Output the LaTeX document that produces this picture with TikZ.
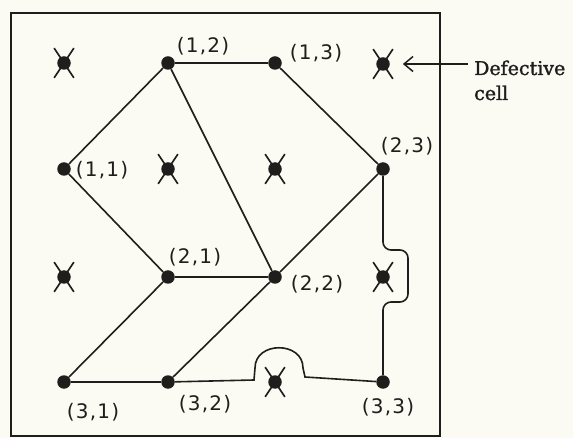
\documentclass[tikz,border=0pt]{standalone}
\usepackage{fontspec}
\usetikzlibrary{arrows.meta,shapes.misc}
\newfontfamily\hand[LetterSpace=6]{DejaVu Sans}
\newfontfamily\serifb[FakeBold=1.6]{DejaVu Serif}
\definecolor{ink}{RGB}{30,30,28}
\definecolor{paper}{RGB}{251,250,243}
\begin{document}
\begin{tikzpicture}[x=1pt,y=-1pt,
  dot/.style={circle,fill=ink,inner sep=0pt,minimum size=13.5pt},
  xcross/.style={cross out,draw=ink,line width=1.7pt,minimum width=18pt,minimum height=28pt,inner sep=0pt},
  edge/.style={draw=ink,line width=1.6pt},
  lab/.style={font=\hand\fontsize{20}{20}\selectfont,text=ink,inner sep=0pt},
  captxt/.style={font=\serifb\fontsize{19}{19}\selectfont,text=ink,inner sep=0pt,anchor=base west}]
\fill[paper] (0,0) rectangle (573,438);
\useasboundingbox (0,0) rectangle (573,438);
\draw[ink,line width=2.2pt] (11,13) rectangle (440,436);
% defective cells
\foreach \n/\x/\y in {a/64/63, b/168/169, c/275/169, d/383/64, e/64/277, f/383/277, g/275/382}{
  \node[xcross] (x\n) at (\x,\y) {};
  \node[dot] (dx\n) at (\x,\y) {};
}
% good cells
\node[dot] (n11) at (64,169) {};
\node[dot] (n12) at (168,63) {};
\node[dot] (n13) at (275,63) {};
\node[dot] (n21) at (168,277) {};
\node[dot] (n22) at (275,277) {};
\node[dot] (n23) at (383,169) {};
\node[dot] (n31) at (64,382) {};
\node[dot] (n32) at (168,382) {};
\node[dot] (n33) at (383,382) {};
% labels
\node[lab] (l11) at (102,170) {(1,1)};
\node[lab] (l12) at (203,46) {(1,2)};
\node[lab] (l13) at (316,53) {(1,3)};
\node[lab] (l21) at (195,257) {(2,1)};
\node[lab] (l22) at (317,284) {(2,2)};
\node[lab] (l23) at (407,146) {(2,3)};
\node[lab] (l31) at (93,412) {(3,1)};
\node[lab] (l32) at (205,404) {(3,2)};
\node[lab] (l33) at (388,407) {(3,3)};
% edges
\draw[edge] (n11) -- (n12);
\draw[edge] (n12) -- (n13);
\draw[edge] (n12) -- (n22);
\draw[edge] (n13) -- (n23);
\draw[edge] (n11) -- (n21);
\draw[edge] (n21) -- (n22);
\draw[edge] (n22) -- (n23);
\draw[edge] (n21) -- (n31);
\draw[edge] (n22) -- (n32);
\draw[edge] (n31) -- (n32);
\draw[edge,rounded corners=8pt] (n23) -- (383,250) -- (408,250) -- (408,302) -- (383,302) -- (n33);
\draw[edge] (n32) -- (254,380) -- (255,368) .. controls (255,341) and (303,341) .. (303,368) -- (305,377) -- (n33);
% caption and arrow
\node[captxt] (t1) at (474,75) {Defective};
\node[captxt] (t2) at (474,100) {cell};
\coordinate (atail) at (468,64);
\draw[ink,line width=1.5pt,-{Straight Barb[length=9pt,width=15pt]},shorten >=10pt] (atail) -- (xd);
\end{tikzpicture}
\end{document}
